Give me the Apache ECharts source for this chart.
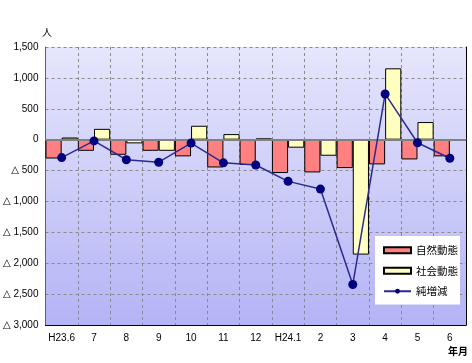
<!DOCTYPE html>
<html><head><meta charset="utf-8">
<script src="https://cdn.jsdelivr.net/npm/echarts@6/dist/echarts.min.js"></script>
<style>html,body{margin:0;padding:0;background:#fff}#c{width:472px;height:363px}</style>
</head><body><div id="c"></div>
<script>
const categories = ['H23.6','7','8','9','10','11','12','H24.1','2','3','4','5','6'];
const natural = [-305, -180, -245, -180, -270, -450, -410, -540, -530, -460, -400, -320, -270];
const social = [35, 175, -60, -180, 225, 90, 20, -130, -260, -1860, 1155, 285, -10];
const net = [-290, -20, -325, -365, -55, -375, -410, -675, -800, -2345, 740, -50, -300];
const yMin = -3000, yMax = 1500, yStep = 500;

function fmt(v){
  const s = Math.abs(v).toLocaleString('en-US');
  return v < 0 ? '\u25B3 ' + s : s;
}
const font = 'Liberation Sans, DejaVu Sans, sans-serif';
const chart = echarts.init(document.getElementById('c'), null, {renderer:'canvas'});
chart.setOption({
  animation:false,
  backgroundColor:'#fff',
  textStyle:{fontFamily:font},
  grid:{left:45,right:6,top:47,bottom:38,show:true,borderWidth:0,
    backgroundColor:{type:'linear',x:0,y:0,x2:0,y2:1,colorStops:[{offset:0,color:'#e6e6fc'},{offset:1,color:'#b4b4f6'}]}},
  graphic:[
    {type:'text',left:42,top:27,style:{text:'人',font:'10px "Noto Sans CJK JP"',fill:'#000'}},
    {type:'text',left:448,top:346,style:{text:'年月',font:'bold 10px "Noto Sans CJK JP"',fill:'#000'}}
  ],
  legend:{
    orient:'vertical',left:375,top:236,
    padding:[9,2,8,8],
    backgroundColor:'#fff',
    itemWidth:27,itemHeight:6,itemGap:10,
    textStyle:{fontFamily:'"Noto Sans CJK JP"',fontSize:10.5,color:'#000'},
    data:[
      {name:'自然動態',icon:'rect'},
      {name:'社会動態',icon:'rect'},
      {name:'純増減'}
    ]
  },
  xAxis:[{
    type:'category',data:categories,position:'bottom',
    axisLine:{onZero:false,lineStyle:{color:'#000',width:1}},
    axisTick:{show:false},
    axisLabel:{interval:0,fontSize:10,color:'#000',margin:8,fontFamily:font},
    splitLine:{show:true,interval:0,lineStyle:{color:'#8a8a8a',type:[3,3],width:1}}
  },{
    type:'category',data:categories,position:'top',
    axisLine:{show:true,lineStyle:{color:'#909090'}},
    axisTick:{show:false},axisLabel:{show:false},splitLine:{show:false}
  }],
  yAxis:[{
    type:'value',min:yMin,max:yMax,interval:yStep,
    axisLine:{show:true,lineStyle:{color:'#606060'}},
    axisTick:{show:false},
    axisLabel:{formatter:fmt,fontSize:10,color:'#000',margin:7,fontFamily:font},
    splitLine:{show:true,lineStyle:{color:'#8a8a8a',type:[3,3],width:1}}
  },{
    type:'value',min:yMin,max:yMax,interval:yStep,position:'right',
    axisLine:{show:true,lineStyle:{color:'#000'}},
    axisTick:{show:false},axisLabel:{show:false},splitLine:{show:false}
  }],
  series:[
    {name:'自然動態',type:'bar',data:natural,barGap:'0%',barCategoryGap:'0%',
     itemStyle:{color:'#ff8080',borderColor:'#000',borderWidth:1},
     markLine:{silent:true,symbol:'none',label:{show:false},
       lineStyle:{color:'#808080',width:2,type:'solid'},data:[{yAxis:0}]}},
    {name:'社会動態',type:'bar',data:social,barGap:'0%',barCategoryGap:'0%',
     itemStyle:{color:'#ffffc0',borderColor:'#000',borderWidth:1}},
    {name:'純増減',type:'line',data:net,symbol:'circle',symbolSize:9,
     lineStyle:{color:'#2a2a95',width:1.5},
     itemStyle:{color:'#000080'},z:5}
  ]
});
</script></body></html>
